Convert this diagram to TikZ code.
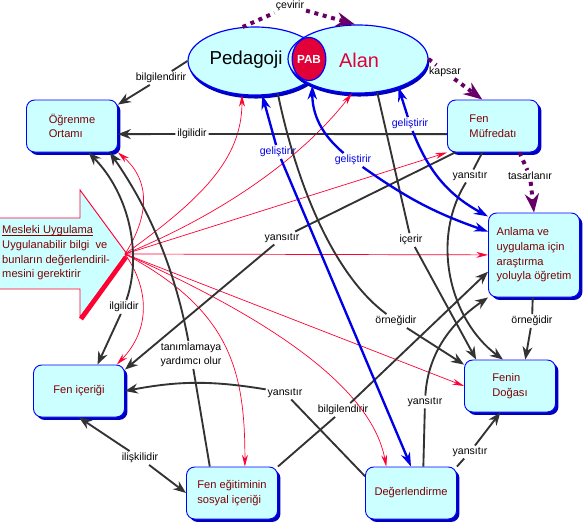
\documentclass[tikz,border=0pt]{standalone}
\usepackage{fontspec}
\setmainfont{Liberation Sans}
\usetikzlibrary{arrows.meta,shapes.geometric,shadows}
\definecolor{cmfill}{RGB}{204,255,255}
\definecolor{cmblue}{RGB}{0,0,255}
\definecolor{cmshadow}{RGB}{0,0,190}
\definecolor{cmtext}{RGB}{128,0,0}
\definecolor{cmgray}{RGB}{51,51,51}
\definecolor{cmdev}{RGB}{0,0,230}
\definecolor{cmred}{RGB}{255,0,51}
\definecolor{cmpurple}{RGB}{102,0,102}
\definecolor{cmalan}{RGB}{225,0,55}
\newcommand{\ulhead}[1]{\setbox0\hbox{#1}\rlap{\rule[-1.8pt]{\wd0}{0.7pt}}\box0}
\begin{document}
\begin{tikzpicture}[x=0.03cm,y=-0.03cm,
  conceptbox/.style={draw=cmblue,line width=0.8pt,fill=cmfill,rounded corners=7pt,
    minimum width=2.73cm,minimum height=1.56cm,align=left,text=cmtext,
    font=\fontsize{9.5}{12.5}\selectfont,
    drop shadow={shadow xshift=2.5pt,shadow yshift=-2.5pt,fill=cmshadow,opacity=1}},
  topicell/.style={ellipse,draw=cmblue,line width=1pt,fill=cmfill,minimum height=2.04cm,inner sep=0pt,
    drop shadow={shadow xshift=1pt,shadow yshift=-3pt,fill=cmshadow,opacity=1}},
  linklbl/.style={font=\fontsize{9}{12}\selectfont,inner sep=1.5pt,align=center},
  devlbl/.style={linklbl,text=cmdev},
  link/.style={draw=cmgray,line width=1.6pt},
  linkarr/.style={link,-{Stealth[length=11pt,width=8.5pt]}},
  devlink/.style={draw=cmdev,line width=2pt,-{Stealth[length=12pt,width=8pt]}},
  praclink/.style={draw=cmred,line width=0.6pt,-{Stealth[length=10pt,width=5pt]}},
  scopedot/.style={draw=cmpurple,line width=3.4pt,dash pattern=on 3.4pt off 4pt},
  scopearr/.style={scopedot,-{Stealth[length=16pt,width=12pt]}}
]
  \useasboundingbox (0,0) rectangle (585,526);

  \node[topicell,minimum width=4.02cm] (ped) at (255,61) {};
  \node[topicell,minimum width=4.2cm] (alan) at (358,59) {};
  \node[ellipse,fill=cmalan,draw=cmblue,line width=1pt,minimum width=0.9cm,minimum height=1.29cm,
    inner sep=0pt,text=white,font=\fontsize{10}{12}\selectfont\bfseries] (pab) at (309,59) {PAB};
  \node[font=\fontsize{16}{18}\selectfont] (pedlbl) at (246,60) {Pedagoji};
  \node[font=\fontsize{17}{19}\selectfont,text=cmalan] (alanlbl) at (359,60) {Alan};

  \node[conceptbox] (ogren) at (72,126) {Öğrenme\\Ortamı};
  \node[conceptbox] (fenmuf) at (493,126) {Fen\\Müfredatı};
  \node[conceptbox,minimum height=2.52cm] (anlama) at (534,255) {Anlama ve\\uygulama için\\araştırma\\yoluyla öğretim};
  \node[conceptbox] (fenic) at (79,391) {Fen içeriği};
  \node[conceptbox] (fensos) at (232,493) {Fen eğitiminin\\sosyal içeriği};
  \node[conceptbox] (fendog) at (510,386) {Fenin\\Doğası};
  \node[conceptbox] (degr) at (411,493) {Değerlendirme};

  \draw[cmred,line width=0.8pt,fill=cmfill] (0,218) -- (80,218) -- (80,190) -- (127,254) -- (80,317) -- (80,289) -- (0,289);
  \draw[cmred,line width=4pt] (126,257) -- (81,319);
  \coordinate (mtip) at (125,254);
  \node[anchor=west,align=left,text=cmtext,font=\fontsize{9.5}{12.5}\selectfont,inner sep=0pt] (mesleki) at (2,253)
    {\ulhead{Mesleki Uygulama}\\Uygulanabilir bilgi\ \ ve\\bunların değerlendiril-\\mesini gerektirir};

  \node[linklbl] (lbilg1) at (161,78) {bilgilendirir};
  \node[linklbl] (lilg1) at (192,134) {ilgilidir};
  \node[linklbl] (lcev) at (290,6) {çevirir};
  \node[linklbl] (lkap) at (445,72) {kapsar};
  \node[linklbl] (ltas) at (530,176) {tasarlanır};
  \node[linklbl] (lyan1) at (470,176) {yansıtır};
  \node[devlbl] (lgel1) at (278,152) {geliştirir};
  \node[devlbl] (lgel2) at (353,160) {geliştirir};
  \node[devlbl] (lgel3) at (410,124) {geliştirir};
  \node[linklbl] (lyan2) at (282,238) {yansıtır};
  \node[linklbl] (licer) at (411,240) {içerir};
  \node[linklbl] (lorn1) at (396,321) {örneğidir};
  \node[linklbl] (lorn2) at (532,321) {örneğidir};
  \node[linklbl] (lilg2) at (124,307) {ilgilidir};
  \node[linklbl] (ltan) at (191,355) {tanımlamaya\\yardımcı olur};
  \node[linklbl] (lyan3) at (285,393) {yansıtır};
  \node[linklbl] (lbilg2) at (343,410) {bilgilendirir};
  \node[linklbl] (lyan4) at (425,402) {yansıtır};
  \node[linklbl] (lilis) at (140,458) {ilişkilidir};
  \node[linklbl] (lyan5) at (470,452) {yansıtır};

  \draw[praclink] (mtip) .. controls (150,215) and (150,180) .. (ogren.south east);
  \draw[praclink] (mtip) .. controls (200,200) and (242,160) .. (ped.-111);
  \draw[praclink] (mtip) .. controls (220,215) and (300,160) .. (alan.-100);
  \draw[praclink] (mtip) -- (fenmuf.south west);
  \draw[praclink] (mtip) -- (anlama);
  \draw[praclink] (mtip) -- (fendog.west);
  \draw[praclink] (mtip) .. controls (250,310) and (370,380) .. (degr.133);
  \draw[praclink] (mtip) .. controls (230,310) and (245,370) .. (fensos.64);
  \draw[praclink] (mtip) .. controls (150,290) and (150,330) .. (fenic.35);

  \draw[link] (ped.west) -- (lbilg1);
  \draw[linkarr] (lbilg1) -- (ogren.25);
  \draw[link] (fenmuf.190) -- (lilg1);
  \draw[linkarr] (lilg1) -- (ogren.-10);
  \draw[link] (fenmuf.-145) -- (lyan2);
  \draw[linkarr] (lyan2) -- (fenic.25);
  \draw[link] (fenmuf.-112) -- (lyan1);
  \draw[linkarr] (lyan1) .. controls (430,240) and (450,320) .. (fendog.105);
  \draw[link] (alan.-60) -- (licer);
  \draw[linkarr] (licer) -- (fendog.142);
  \draw[link] (ped.-55) .. controls (300,200) and (340,280) .. (lorn1);
  \draw[linkarr] (lorn1) -- (fendog.155);
  \draw[link] (anlama) -- (lorn2);
  \draw[linkarr] (lorn2) -- (fendog.60);
  \draw[linkarr] (lilg2) .. controls (142,255) and (130,195) .. (ogren.-58);
  \draw[linkarr] (lilg2) -- (fenic.55);
  \draw[link] (fensos.130) -- (ltan);
  \draw[linkarr] (ltan) .. controls (175,270) and (150,210) .. (ogren.-35);
  \draw[linkarr] (lilis) -- (fenic.south);
  \draw[linkarr] (lilis) -- (fensos.west);
  \draw[link] (degr.160) -- (lyan3);
  \draw[linkarr] (lyan3) to[bend right=10] (fenic.east);
  \draw[link] (fensos.north east) -- (lbilg2);
  \draw[linkarr] (lbilg2) -- (anlama.200);
  \draw[link] (degr.65) -- (lyan4);
  \draw[linkarr] (lyan4) .. controls (428,350) and (455,320) .. (anlama.south west);
  \draw[link] (degr.north east) -- (lyan5);
  \draw[linkarr] (lyan5) -- (fendog.-110);

  \draw[devlink] (lgel1) -- (ped.-78);
  \draw[devlink] (lgel1) -- (degr.north);
  \draw[devlink] (lgel2) to[bend left=25] (alan.-150);
  \draw[devlink] (lgel2) to[bend right=8] (anlama.153);
  \draw[devlink] (lgel3) -- (alan.-35);
  \draw[devlink] (lgel3) to[bend right=20] (anlama.140);

  \draw[scopedot] (ped.110) -- (lcev);
  \draw[scopearr] (lcev) -- (alan.95);
  \draw[scopedot] (alan.east) -- (lkap);
  \draw[scopearr] (lkap) -- (fenmuf.112);
  \draw[scopedot] (fenmuf.-45) -- (ltas);
  \draw[scopearr] (ltas) -- (anlama.north);
\end{tikzpicture}
\end{document}
